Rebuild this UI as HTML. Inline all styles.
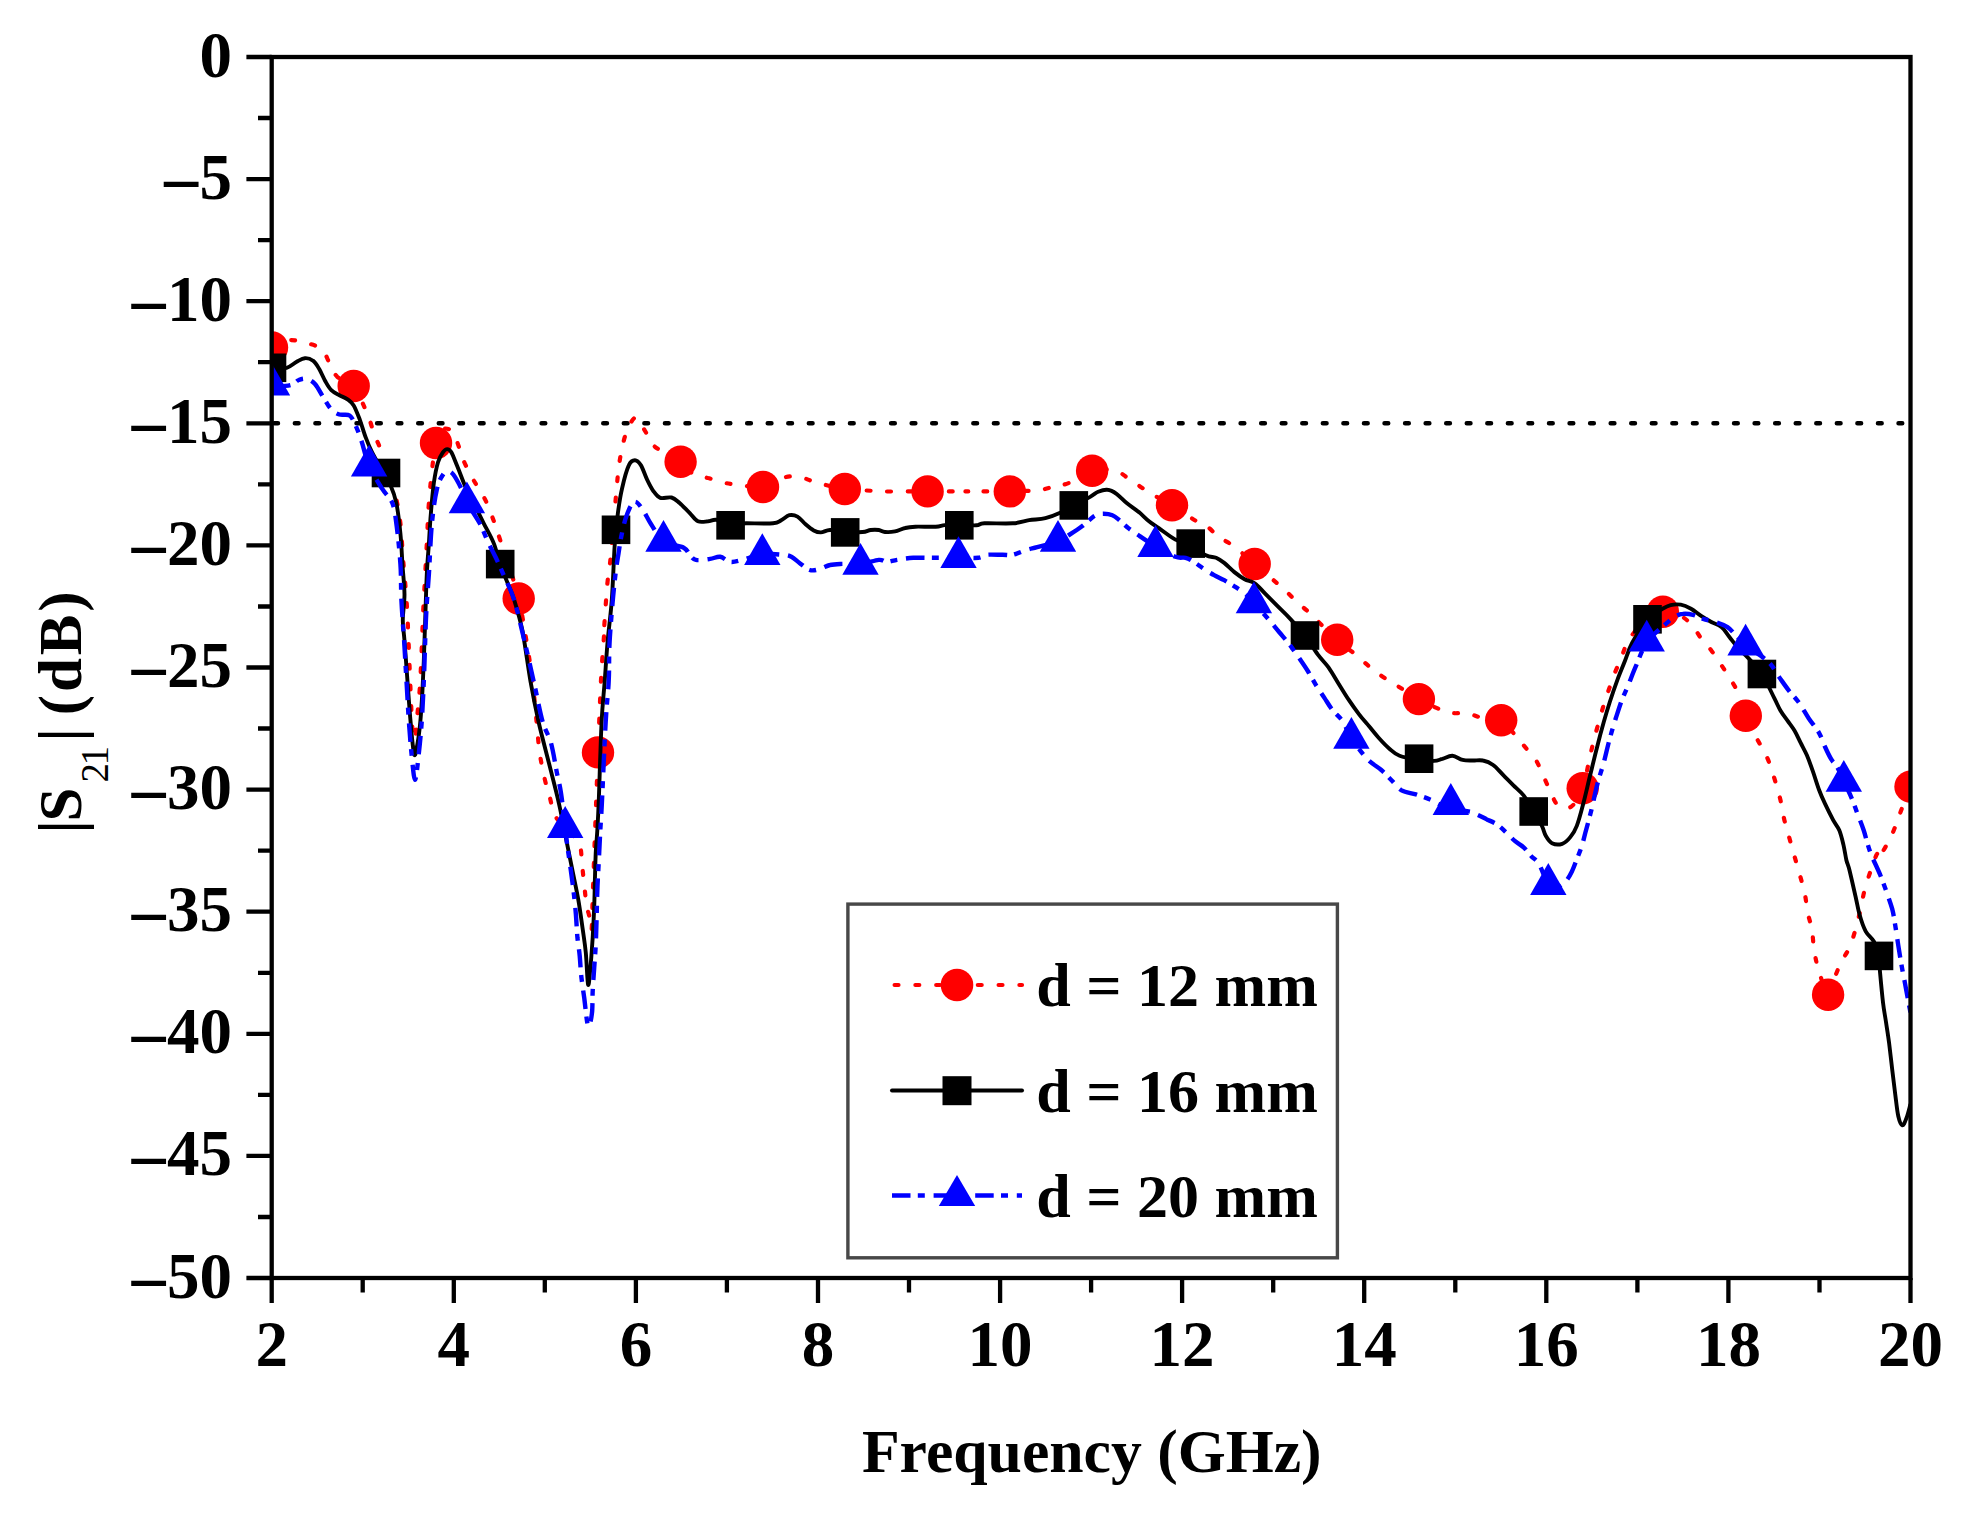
<!DOCTYPE html>
<html lang="en">
<head>
<meta charset="utf-8">
<title>|S21| versus frequency</title>
<style>
html,body{margin:0;padding:0;background:#fff;}
body{width:1969px;height:1520px;overflow:hidden;}
svg{display:block;}
text{font-family:"Liberation Serif", "Times New Roman", serif;font-weight:bold;fill:#000;}
</style>
</head>
<body>
<svg width="1969" height="1520" viewBox="0 0 1969 1520">
<rect x="0" y="0" width="1969" height="1520" fill="#ffffff"/>
<defs><clipPath id="plot"><rect x="271.7" y="57.0" width="1638.8" height="1221.0"/></clipPath></defs>
<line x1="271.7" y1="423.3" x2="1910.5" y2="423.3" stroke="#000" stroke-width="4.6" stroke-linecap="round" stroke-dasharray="3.6 16.96" stroke-dashoffset="-2.64"/>
<g clip-path="url(#plot)">
<path d="M272.0 347.4C274.7 346.3 283.5 341.2 288.6 340.3C293.8 339.5 297.4 341.0 302.8 342.4C308.3 343.7 316.7 345.1 321.1 348.5C325.5 351.8 326.6 357.9 329.3 362.7C332.0 367.4 333.3 373.0 337.4 376.9C341.5 380.8 348.6 379.6 353.7 386.1C358.7 392.5 364.5 407.6 367.9 415.5C371.3 423.5 372.0 428.4 374.0 433.8C376.0 439.2 377.4 441.3 380.1 448.0C382.8 454.8 387.5 466.0 390.2 474.5C393.0 482.9 394.6 490.7 396.3 498.9C398.0 507.0 399.2 512.4 400.4 523.3C401.6 534.1 402.4 551.1 403.5 563.9C404.5 576.7 405.7 587.2 406.5 600.0C407.4 612.8 407.9 625.4 408.5 640.7C409.2 655.9 409.9 676.2 410.6 691.5C411.2 706.7 411.9 722.3 412.6 732.1C413.3 741.9 414.0 752.1 414.6 750.4C415.3 748.7 415.8 732.1 416.7 722.0C417.5 711.8 418.9 701.6 419.7 689.4C420.6 677.2 421.2 660.3 421.7 648.8C422.3 637.3 422.4 628.5 422.8 620.3C423.1 612.2 423.1 612.8 423.8 600.0C424.5 587.2 426.0 559.8 426.8 543.6C427.7 527.4 427.8 516.5 428.9 502.9C429.9 489.4 431.7 472.3 432.9 462.3C434.1 452.3 434.5 448.2 436.0 443.0C437.5 437.7 440.2 433.1 442.1 430.8C443.9 428.4 445.3 428.4 447.2 428.7C449.0 429.1 451.2 429.6 453.3 432.8C455.3 436.0 457.7 443.5 459.3 448.0C461.0 452.6 461.4 455.5 463.4 460.2C465.4 465.0 469.0 471.8 471.5 476.5C474.1 481.2 476.3 484.6 478.7 488.7C481.0 492.8 483.2 495.5 485.8 500.9C488.3 506.3 491.5 514.8 493.9 521.2C496.3 527.7 497.6 532.4 500.0 539.5C502.4 546.6 505.0 554.1 508.1 563.9C511.2 573.7 515.7 585.7 518.7 598.5C521.7 611.2 524.1 626.8 526.4 640.7C528.7 654.5 530.8 667.8 532.5 681.3C534.2 694.9 535.4 710.1 536.6 722.0C537.8 733.8 538.3 743.0 539.6 752.4C541.0 761.9 543.0 771.4 544.7 778.9C546.4 786.3 548.1 791.1 549.8 797.2C551.5 803.3 552.0 810.0 554.9 815.4C557.8 820.9 563.0 824.9 567.1 829.7C571.1 834.4 576.8 838.2 579.3 843.9C581.8 849.6 581.2 857.2 582.0 864.1C582.8 871.0 583.5 878.6 584.3 885.5C585.1 892.3 585.7 900.0 586.6 905.3C587.5 910.6 588.8 913.4 589.6 917.5C590.5 921.6 591.1 933.3 591.6 929.7C592.1 926.2 592.4 905.0 592.7 896.1C593.0 887.2 593.2 883.4 593.4 876.3C593.7 869.2 594.0 860.5 594.2 853.4C594.5 846.3 594.7 840.2 595.0 833.6C595.2 827.0 595.0 834.0 595.7 813.7C596.5 793.4 598.6 735.9 599.6 711.8C600.6 687.7 600.8 683.3 601.6 669.1C602.5 654.9 604.2 634.0 604.7 626.4C605.1 618.9 603.9 631.1 604.4 623.9C604.9 616.7 606.4 594.1 607.4 583.3C608.5 572.4 609.3 570.7 610.5 558.9C611.7 547.0 613.4 525.7 614.6 512.1C615.7 498.6 616.8 486.0 617.6 477.6C618.4 469.1 618.8 466.7 619.6 461.3C620.5 455.9 621.3 450.5 622.7 445.0C624.0 439.6 625.6 433.4 627.8 428.8C630.0 424.2 633.0 417.3 635.9 417.6C638.8 417.9 642.0 426.1 645.0 430.8C648.1 435.6 648.3 440.9 654.2 446.1C660.1 451.2 674.0 457.0 680.6 461.7C687.2 466.4 689.2 471.8 693.8 474.5C698.4 477.2 703.1 476.6 708.0 478.0C713.0 479.3 718.2 481.5 723.3 482.6C728.4 483.8 731.9 483.9 738.5 484.7C745.1 485.4 755.1 488.4 762.9 487.1C770.7 485.9 778.8 478.7 785.3 477.2C791.7 475.6 796.3 476.6 801.5 477.6C806.8 478.5 809.6 480.7 816.8 482.6C824.0 484.6 836.9 487.9 844.8 489.1C852.8 490.4 858.2 490.0 864.6 490.4C870.9 490.7 876.1 491.2 882.8 491.4C889.6 491.6 897.8 491.4 905.2 491.4C912.7 491.4 920.4 491.4 927.6 491.4C934.7 491.4 941.1 491.4 947.9 491.4C954.7 491.4 965.2 491.4 968.2 491.4C971.2 491.4 963.1 491.4 966.1 491.4C969.1 491.4 979.1 491.4 986.4 491.4C993.7 491.4 1002.7 491.5 1009.8 491.4C1016.9 491.3 1024.5 490.9 1029.1 490.8C1033.7 490.7 1033.2 491.4 1037.2 490.8C1041.3 490.1 1048.1 488.1 1053.5 486.7C1058.9 485.4 1063.3 485.3 1069.8 482.6C1076.2 480.0 1084.7 472.7 1092.1 470.7C1099.6 468.6 1108.4 469.1 1114.5 470.4C1120.6 471.8 1124.1 475.7 1128.7 478.6C1133.3 481.5 1137.5 484.8 1141.9 487.7C1146.3 490.6 1150.1 492.9 1155.1 495.9C1160.1 498.8 1165.4 501.1 1172.0 505.2C1178.6 509.3 1188.9 516.7 1194.8 520.2C1200.6 523.8 1202.9 523.5 1207.0 526.3C1211.0 529.2 1215.6 534.8 1219.1 537.5C1222.7 540.2 1224.7 540.2 1228.3 542.6C1231.8 545.0 1236.1 548.2 1240.5 551.7C1244.9 555.3 1248.6 558.7 1254.7 563.9C1260.8 569.2 1271.5 578.3 1277.1 583.3C1282.7 588.2 1284.7 590.0 1288.3 593.4C1291.8 596.8 1294.8 600.2 1298.4 603.6C1302.1 606.9 1303.7 607.4 1310.2 613.5C1316.6 619.6 1329.7 633.6 1337.0 640.2C1344.3 646.8 1348.5 648.8 1353.9 653.2C1359.2 657.5 1364.4 662.5 1369.1 666.4C1373.8 670.3 1377.9 673.5 1382.3 676.5C1386.7 679.6 1389.4 680.9 1395.5 684.7C1401.6 688.4 1410.3 694.5 1418.9 699.1C1427.5 703.7 1439.4 709.8 1447.4 712.1C1455.3 714.5 1460.9 712.2 1466.7 713.1C1472.4 714.1 1476.2 716.6 1481.9 717.8C1487.7 719.0 1495.6 717.3 1501.2 720.2C1506.8 723.2 1511.4 730.9 1515.4 735.5C1519.5 740.1 1522.2 743.6 1525.6 747.7C1529.0 751.7 1532.9 755.3 1535.8 759.9C1538.7 764.5 1540.5 770.0 1542.9 775.1C1545.3 780.2 1547.5 785.3 1550.0 790.4C1552.5 795.4 1554.6 802.9 1558.1 805.6C1561.7 808.3 1567.2 809.5 1571.3 806.6C1575.4 803.7 1579.7 796.3 1582.7 788.3C1585.7 780.4 1587.7 766.5 1589.4 758.9C1591.2 751.2 1591.9 748.0 1593.3 742.6C1594.6 737.2 1596.0 732.1 1597.6 726.3C1599.2 720.6 1601.1 713.8 1602.8 708.0C1604.6 702.3 1606.2 697.4 1608.1 691.8C1610.0 686.2 1612.1 680.1 1614.2 674.5C1616.4 668.9 1619.0 663.5 1621.1 658.3C1623.3 653.0 1624.4 648.2 1627.2 643.0C1630.1 637.8 1634.3 631.8 1638.1 627.1C1641.9 622.4 1646.2 617.4 1650.3 614.9C1654.4 612.3 1658.2 611.8 1662.9 611.8C1667.6 611.8 1674.1 612.8 1678.8 614.9C1683.4 616.9 1687.2 620.1 1691.0 624.0C1694.7 627.9 1697.7 633.8 1701.1 638.3C1704.5 642.7 1708.1 646.2 1711.3 650.4C1714.5 654.7 1717.4 659.1 1720.4 663.7C1723.5 668.2 1726.7 673.1 1729.6 677.9C1732.4 682.6 1735.0 685.8 1737.7 692.1C1740.4 698.4 1742.6 707.9 1745.8 715.7C1749.0 723.5 1754.0 733.0 1757.0 738.9C1760.1 744.8 1761.9 746.7 1764.1 751.1C1766.3 755.5 1768.4 760.2 1770.2 765.3C1772.1 770.4 1773.6 775.8 1775.3 781.5C1777.0 787.3 1778.9 793.4 1780.4 799.8C1781.9 806.3 1782.9 813.7 1784.4 820.2C1786.0 826.6 1787.8 832.4 1789.5 838.5C1791.2 844.6 1792.9 850.8 1794.6 856.7C1796.3 862.7 1798.0 868.2 1799.7 874.4C1801.4 880.5 1803.4 887.3 1804.8 893.7C1806.1 900.1 1806.6 907.1 1807.8 913.0C1809.0 918.9 1810.9 923.5 1811.9 929.3C1812.9 935.0 1812.9 941.1 1813.9 947.6C1814.9 954.0 1815.6 960.0 1818.0 967.9C1820.4 975.7 1825.3 993.4 1828.1 994.7C1831.0 996.1 1833.1 981.5 1835.3 976.0C1837.5 970.5 1839.0 966.5 1841.4 961.8C1843.7 957.0 1847.1 953.0 1849.5 947.6C1851.9 942.1 1853.7 935.7 1855.6 929.3C1857.4 922.8 1859.1 915.5 1860.7 908.9C1862.2 902.3 1863.0 896.1 1864.7 889.6C1866.4 883.2 1868.8 876.3 1870.8 870.3C1872.9 864.4 1875.7 856.0 1876.9 854.1C1878.1 852.1 1875.9 861.0 1877.9 858.8C1880.0 856.5 1886.1 846.2 1889.1 840.5C1892.2 834.7 1894.2 829.3 1896.2 824.2C1898.3 819.1 1898.9 816.3 1901.3 810.0C1903.7 803.7 1908.9 790.5 1910.5 786.6" fill="none" stroke="#ff0000" stroke-width="4.2" stroke-linecap="round" stroke-dasharray="3.9 16.7" stroke-linejoin="round"/>
<circle cx="272.0" cy="347.4" r="16.2" fill="#ff0000"/>
<circle cx="353.7" cy="386.0" r="16.2" fill="#ff0000"/>
<circle cx="436.0" cy="443.0" r="16.2" fill="#ff0000"/>
<circle cx="518.7" cy="598.5" r="16.2" fill="#ff0000"/>
<circle cx="598.0" cy="752.4" r="16.2" fill="#ff0000"/>
<circle cx="680.6" cy="461.7" r="16.2" fill="#ff0000"/>
<circle cx="763.0" cy="487.0" r="16.2" fill="#ff0000"/>
<circle cx="844.8" cy="489.0" r="16.2" fill="#ff0000"/>
<circle cx="927.6" cy="491.4" r="16.2" fill="#ff0000"/>
<circle cx="1009.8" cy="491.4" r="16.2" fill="#ff0000"/>
<circle cx="1092.1" cy="470.7" r="16.2" fill="#ff0000"/>
<circle cx="1172.0" cy="505.2" r="16.2" fill="#ff0000"/>
<circle cx="1254.7" cy="564.0" r="16.2" fill="#ff0000"/>
<circle cx="1337.2" cy="639.8" r="16.2" fill="#ff0000"/>
<circle cx="1418.9" cy="699.1" r="16.2" fill="#ff0000"/>
<circle cx="1501.2" cy="720.2" r="16.2" fill="#ff0000"/>
<circle cx="1582.7" cy="788.3" r="16.2" fill="#ff0000"/>
<circle cx="1662.9" cy="611.8" r="16.2" fill="#ff0000"/>
<circle cx="1745.8" cy="715.7" r="16.2" fill="#ff0000"/>
<circle cx="1828.1" cy="994.7" r="16.2" fill="#ff0000"/>
<circle cx="1910.5" cy="786.6" r="16.2" fill="#ff0000"/>
<path d="M272.0 367.8C274.4 367.8 282.5 368.8 286.6 367.8C290.7 366.7 293.7 363.3 296.7 361.7C299.8 360.1 302.2 358.4 304.9 358.2C307.6 358.0 310.6 358.9 313.0 360.7C315.4 362.4 317.1 365.4 319.1 368.8C321.1 372.2 323.2 377.4 325.2 381.0C327.2 384.5 328.9 387.8 331.3 390.1C333.7 392.5 336.7 393.7 339.4 395.2C342.1 396.7 345.2 397.6 347.6 399.3C349.9 401.0 351.6 402.0 353.7 405.4C355.7 408.8 357.7 414.2 359.8 419.6C361.8 425.0 363.8 432.5 365.9 437.9C367.9 443.3 369.2 446.7 372.0 452.1C374.7 457.5 379.1 465.0 382.1 470.4C385.2 475.8 387.9 479.2 390.2 484.6C392.6 490.1 394.6 494.8 396.3 502.9C398.0 511.1 399.4 523.3 400.4 533.4C401.4 543.6 401.8 553.7 402.4 563.9C403.1 574.1 404.4 585.0 404.5 594.4C404.5 603.8 402.8 612.6 402.8 620.3C402.8 628.0 403.7 630.5 404.5 640.7C405.3 650.8 406.5 667.8 407.5 681.3C408.5 694.9 409.5 709.8 410.6 722.0C411.7 734.1 413.0 751.1 414.2 754.5C415.4 757.9 416.7 747.7 417.7 742.3C418.7 736.9 419.5 730.4 420.3 722.0C421.1 713.5 421.8 701.6 422.4 691.5C422.9 681.3 423.3 672.8 423.8 661.0C424.3 649.1 424.7 634.8 425.2 620.3C425.7 605.8 426.2 586.9 426.8 574.1C427.4 561.3 428.2 553.7 428.9 543.6C429.5 533.4 430.0 523.3 430.9 513.1C431.7 502.9 432.8 491.1 433.9 482.6C435.1 474.1 436.5 467.4 438.0 462.3C439.5 457.2 441.6 454.3 443.1 452.1C444.6 449.9 445.8 449.1 447.2 449.1C448.5 449.1 449.5 449.2 451.2 452.1C452.9 455.0 454.9 460.6 457.3 466.3C459.7 472.1 462.7 480.6 465.4 486.7C468.2 492.8 470.5 496.8 473.6 502.9C476.6 509.0 480.4 516.5 483.7 523.3C487.1 530.0 491.2 536.8 493.9 543.6C496.6 550.4 497.6 557.1 500.0 563.9C502.4 570.7 505.8 578.2 508.1 584.2C510.5 590.2 511.9 592.3 514.2 600.0C516.6 607.7 519.6 616.9 522.4 630.5C525.1 644.0 527.8 666.1 530.5 681.3C533.2 696.5 535.6 708.4 538.6 722.0C541.7 735.5 545.4 749.1 548.8 762.6C552.2 776.2 555.9 789.7 558.9 803.3C562.0 816.8 564.9 833.0 567.1 843.9C569.3 854.8 570.2 859.5 572.1 868.7C573.9 877.9 576.4 889.0 578.2 899.2C580.0 909.4 581.5 920.8 582.8 929.7C584.0 938.6 584.9 943.4 585.8 952.6C586.7 961.8 587.3 982.1 588.1 984.6C588.9 987.2 589.6 975.7 590.4 967.9C591.2 960.0 592.0 947.5 592.7 937.3C593.3 927.2 593.8 917.0 594.2 906.8C594.6 896.6 594.7 885.2 595.0 876.3C595.2 867.4 595.4 861.0 595.7 853.4C596.1 845.8 596.8 839.4 597.3 830.5C597.8 821.6 598.1 818.1 598.8 800.0C599.5 781.9 600.6 741.7 601.6 722.0C602.6 702.2 603.7 694.9 604.7 681.3C605.7 667.8 606.5 654.2 607.7 640.7C608.9 627.1 610.6 616.2 611.8 600.0C613.0 583.8 613.8 558.1 614.8 543.6C615.9 529.1 616.7 522.2 617.9 513.1C619.1 503.9 620.1 496.7 622.0 488.7C623.8 480.7 626.6 470.1 628.8 465.4C630.9 460.6 632.8 460.3 634.9 460.3C636.9 460.3 638.9 462.1 641.0 465.4C643.0 468.6 645.0 475.4 647.1 479.6C649.1 483.8 651.0 487.7 653.2 490.8C655.4 493.8 657.2 496.8 660.3 497.9C663.3 499.0 668.2 496.6 671.5 497.5C674.7 498.3 676.5 500.4 679.6 503.0C682.6 505.6 686.7 510.1 689.8 513.1C692.8 516.2 694.8 519.9 697.9 521.3C700.9 522.6 705.0 521.5 708.0 521.3C711.1 521.0 712.4 519.5 716.2 519.8C719.9 520.2 725.5 522.7 730.6 523.3C735.7 523.9 739.6 523.3 746.7 523.3C753.7 523.3 767.3 523.8 773.1 523.3C778.8 522.8 778.5 521.6 781.2 520.2C783.9 518.9 786.6 515.8 789.3 515.2C792.1 514.6 794.8 515.1 797.5 516.6C800.2 518.1 802.9 522.0 805.6 524.3C808.3 526.6 811.2 529.1 813.7 530.4C816.3 531.8 818.1 532.5 820.9 532.4C823.6 532.4 825.9 530.1 830.0 530.0C834.1 529.9 839.8 531.7 845.2 532.0C850.7 532.4 858.3 532.4 862.5 532.0C866.8 531.7 867.9 530.3 870.7 530.0C873.4 529.7 876.4 529.7 878.8 530.0C881.2 530.3 882.2 531.8 884.9 532.0C887.6 532.3 891.7 532.1 895.0 531.4C898.4 530.7 901.8 528.7 905.2 528.0C908.6 527.2 910.3 527.0 915.4 526.7C920.4 526.5 930.8 527.0 935.7 526.7C940.6 526.5 940.9 525.5 944.8 525.1C948.8 524.8 954.0 524.7 959.3 524.7C964.5 524.7 972.1 525.6 976.3 525.3C980.4 525.1 978.3 523.6 984.4 523.3C990.5 523.0 1005.4 523.8 1012.8 523.3C1020.3 522.8 1023.7 521.1 1029.1 520.2C1034.5 519.4 1040.3 519.4 1045.4 518.2C1050.4 517.0 1054.9 515.3 1059.6 513.1C1064.3 511.0 1068.7 508.1 1073.8 505.4C1078.9 502.7 1086.0 499.1 1090.1 496.9C1094.1 494.6 1095.3 493.0 1098.2 491.8C1101.1 490.6 1104.3 489.4 1107.4 489.8C1110.4 490.1 1113.3 491.6 1116.5 493.8C1119.7 496.0 1122.9 499.9 1126.7 503.0C1130.4 506.0 1135.1 509.1 1138.9 512.1C1142.6 515.2 1145.6 518.6 1149.0 521.3C1152.4 524.0 1154.8 525.3 1159.2 528.4C1163.6 531.4 1170.2 536.8 1175.4 539.6C1180.7 542.3 1185.6 542.4 1190.7 545.0C1195.8 547.6 1201.7 553.1 1205.9 555.2C1210.2 557.3 1213.0 556.6 1216.1 557.8C1219.1 559.1 1221.2 560.6 1224.2 562.9C1227.3 565.3 1231.0 569.4 1234.4 572.1C1237.8 574.8 1241.2 577.3 1244.6 579.2C1247.9 581.1 1251.3 580.9 1254.7 583.3C1258.1 585.6 1261.2 589.7 1264.9 593.4C1268.6 597.1 1273.0 601.5 1277.1 605.6C1281.1 609.7 1284.6 612.8 1289.3 617.8C1293.9 622.8 1300.2 629.4 1304.9 635.5C1309.7 641.6 1313.8 649.1 1317.7 654.4C1321.6 659.7 1325.0 662.5 1328.5 667.4C1331.9 672.3 1335.2 678.2 1338.6 683.7C1342.0 689.1 1345.4 694.8 1348.8 699.9C1352.2 705.0 1355.6 709.7 1358.9 714.1C1362.3 718.6 1365.7 722.3 1369.1 726.3C1372.5 730.4 1375.9 734.8 1379.3 738.5C1382.7 742.3 1386.0 745.8 1389.4 748.7C1392.8 751.6 1394.6 753.9 1399.6 755.8C1404.5 757.7 1413.3 759.0 1419.1 759.9C1424.9 760.7 1430.3 761.1 1434.1 760.9C1438.0 760.7 1439.2 759.7 1442.3 758.9C1445.3 758.0 1449.1 755.6 1452.4 755.8C1455.8 756.0 1459.2 759.1 1462.6 759.9C1466.0 760.7 1469.4 760.4 1472.8 760.5C1476.2 760.6 1479.5 759.7 1482.9 760.5C1486.3 761.2 1489.7 762.5 1493.1 765.0C1496.5 767.4 1499.9 771.7 1503.3 775.1C1506.6 778.5 1510.0 781.9 1513.4 785.3C1516.8 788.7 1520.2 791.1 1523.6 795.4C1527.0 799.8 1530.7 806.4 1533.7 811.5C1536.8 816.6 1539.8 821.8 1541.9 825.9C1543.9 830.0 1544.2 833.2 1545.9 836.1C1547.6 839.0 1549.3 841.9 1552.0 843.2C1554.7 844.5 1559.1 844.8 1562.2 843.8C1565.2 842.8 1567.9 840.1 1570.3 837.1C1572.8 834.1 1574.7 831.5 1576.8 825.9C1579.0 820.3 1581.0 812.4 1583.3 803.6C1585.6 794.8 1588.3 782.6 1590.7 773.1C1593.0 763.6 1595.0 755.1 1597.2 746.7C1599.3 738.2 1601.6 729.7 1603.7 722.3C1605.8 714.8 1607.5 709.1 1609.8 702.0C1612.1 694.8 1615.0 686.4 1617.5 679.6C1620.0 672.8 1622.4 667.4 1624.8 661.3C1627.2 655.2 1628.4 650.0 1632.1 643.0C1635.9 636.0 1642.3 624.9 1647.4 619.2C1652.4 613.5 1658.6 611.1 1662.5 608.8C1666.4 606.4 1667.6 605.8 1670.6 605.1C1673.7 604.4 1677.4 604.1 1680.8 604.7C1684.2 605.3 1687.6 606.9 1691.0 608.8C1694.3 610.6 1697.7 613.7 1701.1 615.9C1704.5 618.1 1707.9 620.1 1711.3 622.0C1714.7 623.9 1718.4 624.5 1721.4 627.1C1724.5 629.6 1726.9 633.8 1729.6 637.2C1732.3 640.6 1734.7 644.0 1737.7 647.4C1740.7 650.8 1743.8 653.1 1747.9 657.6C1751.9 662.0 1757.5 667.2 1761.9 674.0C1766.3 680.8 1771.2 692.1 1774.3 698.2C1777.4 704.3 1778.2 706.7 1780.4 710.4C1782.6 714.1 1785.1 717.2 1787.5 720.6C1789.9 724.0 1792.4 727.0 1794.6 730.7C1796.8 734.5 1798.7 738.9 1800.7 742.9C1802.7 747.0 1804.8 750.4 1806.8 755.1C1808.8 759.9 1810.9 765.6 1812.9 771.4C1814.9 777.1 1817.0 784.3 1819.0 789.7C1821.0 795.1 1822.7 798.8 1825.1 803.9C1827.5 809.0 1830.9 815.8 1833.2 820.2C1835.6 824.6 1837.6 826.3 1839.3 830.3C1841.0 834.4 1842.2 839.6 1843.4 844.6C1844.6 849.5 1845.4 855.9 1846.4 860.2C1847.5 864.5 1848.0 864.2 1849.5 870.3C1851.0 876.4 1853.9 889.3 1855.6 896.7C1857.3 904.2 1858.0 909.3 1859.7 915.0C1861.3 920.8 1863.4 926.9 1865.7 931.3C1868.1 935.7 1871.7 937.4 1873.9 941.5C1876.1 945.6 1877.9 950.8 1879.0 955.9C1880.0 961.0 1879.3 964.2 1880.0 972.0C1880.7 979.7 1882.0 994.0 1883.0 1002.4C1884.0 1010.9 1885.1 1016.0 1886.1 1022.8C1887.1 1029.5 1888.1 1035.3 1889.1 1043.1C1890.1 1050.9 1891.2 1061.0 1892.2 1069.5C1893.2 1078.0 1894.2 1086.1 1895.2 1093.9C1896.2 1101.7 1897.1 1111.0 1898.3 1116.3C1899.5 1121.5 1901.0 1125.1 1902.3 1125.4C1903.7 1125.7 1905.0 1121.8 1906.4 1118.3C1907.8 1114.7 1909.8 1106.4 1910.5 1104.1" fill="none" stroke="#000" stroke-width="3.9" stroke-linejoin="round"/>
<rect x="257.7" y="353.5" width="28.6" height="28.6" fill="#000"/>
<rect x="371.7" y="458.7" width="28.6" height="28.6" fill="#000"/>
<rect x="485.9" y="549.8" width="28.6" height="28.6" fill="#000"/>
<rect x="601.7" y="515.5" width="28.6" height="28.6" fill="#000"/>
<rect x="716.3" y="511.0" width="28.6" height="28.6" fill="#000"/>
<rect x="830.9" y="518.1" width="28.6" height="28.6" fill="#000"/>
<rect x="945.0" y="511.0" width="28.6" height="28.6" fill="#000"/>
<rect x="1059.5" y="491.1" width="28.6" height="28.6" fill="#000"/>
<rect x="1176.4" y="529.3" width="28.6" height="28.6" fill="#000"/>
<rect x="1290.7" y="621.2" width="28.6" height="28.6" fill="#000"/>
<rect x="1404.8" y="744.4" width="28.6" height="28.6" fill="#000"/>
<rect x="1519.4" y="797.2" width="28.6" height="28.6" fill="#000"/>
<rect x="1633.2" y="605.0" width="28.6" height="28.6" fill="#000"/>
<rect x="1747.6" y="659.7" width="28.6" height="28.6" fill="#000"/>
<rect x="1864.7" y="941.6" width="28.6" height="28.6" fill="#000"/>
<path d="M272.0 387.1C275.1 386.7 286.2 386.2 290.7 385.0C295.1 383.9 296.1 381.0 298.8 380.0C301.5 378.9 304.2 378.3 306.9 378.9C309.6 379.6 312.3 381.0 315.0 384.0C317.8 387.1 320.5 393.0 323.2 397.2C325.9 401.5 328.6 406.6 331.3 409.4C334.0 412.3 336.4 413.5 339.4 414.5C342.5 415.5 346.9 413.7 349.6 415.5C352.3 417.4 353.7 421.3 355.7 425.7C357.7 430.1 359.6 435.2 361.8 442.0C364.0 448.7 365.7 458.1 369.1 465.9C372.5 473.7 378.3 482.5 382.1 488.7C386.0 494.9 389.9 497.2 392.3 502.9C394.6 508.7 395.0 513.1 396.3 523.3C397.7 533.4 399.6 551.1 400.4 563.9C401.3 576.7 400.8 587.2 401.4 600.0C402.0 612.8 403.2 627.1 404.1 640.7C404.9 654.2 405.7 667.8 406.5 681.3C407.3 694.9 408.1 709.8 408.9 722.0C409.8 734.1 410.6 744.8 411.6 754.5C412.6 764.1 413.9 779.9 415.0 779.9C416.2 779.9 417.6 764.1 418.7 754.5C419.8 744.8 420.9 734.1 421.7 722.0C422.6 709.8 423.2 694.9 423.8 681.3C424.4 667.8 424.8 652.5 425.2 640.7C425.6 628.8 425.8 621.3 426.4 610.2C427.0 599.1 427.9 588.6 428.9 574.1C429.8 559.6 430.6 537.5 431.9 523.3C433.3 509.0 435.1 496.8 437.0 488.7C438.9 480.6 441.2 477.4 443.1 474.5C445.0 471.6 446.5 471.4 448.2 471.4C449.9 471.4 451.1 471.6 453.3 474.5C455.5 477.4 459.1 484.0 461.4 488.7C463.7 493.4 463.8 496.8 466.9 502.5C469.9 508.3 476.2 516.7 479.7 523.3C483.2 529.8 485.1 535.8 487.8 541.5C490.5 547.3 493.2 552.0 495.9 557.8C498.6 563.6 501.0 569.1 504.1 576.1C507.1 583.1 510.8 589.2 514.2 600.0C517.6 610.8 521.0 626.4 524.4 640.7C527.8 654.9 531.5 671.8 534.6 685.4C537.6 698.9 540.0 712.5 542.7 722.0C545.4 731.4 548.4 733.8 550.8 742.3C553.2 750.7 555.2 764.3 556.9 772.8C558.6 781.2 559.6 784.0 561.0 793.1C562.4 802.2 564.2 818.8 565.2 827.2C566.3 835.7 566.2 837.0 567.1 843.9C568.0 850.8 569.5 860.7 570.6 868.7C571.6 876.6 572.7 883.9 573.6 891.6C574.5 899.2 575.3 906.8 575.9 914.5C576.5 922.1 576.8 930.5 577.4 937.3C578.1 944.2 579.1 949.3 579.7 955.7C580.3 962.0 580.5 968.4 581.2 975.5C582.0 982.6 583.1 990.0 584.3 998.4C585.4 1006.8 586.8 1023.3 588.1 1025.9C589.4 1028.4 591.2 1019.5 591.9 1013.6C592.7 1007.8 592.3 998.4 592.7 990.8C593.1 983.1 593.7 975.5 594.2 967.9C594.7 960.2 595.4 952.6 595.7 945.0C596.1 937.3 596.2 931.0 596.5 922.1C596.8 913.2 596.9 901.7 597.3 891.6C597.6 881.4 598.3 871.2 598.8 861.0C599.3 850.9 599.8 839.9 600.3 830.5C600.8 821.1 600.9 822.7 601.8 804.6C602.7 786.5 604.5 742.5 605.7 722.0C606.8 701.4 608.1 694.3 608.7 681.3C609.4 668.3 608.8 657.2 609.5 644.2C610.1 631.3 611.5 615.4 612.5 603.6C613.5 591.7 614.6 581.6 615.6 573.1C616.6 564.6 617.6 559.2 618.6 552.8C619.6 546.3 620.5 540.2 621.7 534.5C622.9 528.7 624.2 523.0 625.7 518.2C627.3 513.5 629.1 508.7 630.8 506.0C632.5 503.3 633.9 501.3 635.9 502.0C637.9 502.6 640.5 506.4 643.0 510.1C645.5 513.8 647.7 519.1 651.1 524.3C654.6 529.5 658.1 537.3 663.5 541.2C669.0 545.1 679.3 545.4 683.7 547.7C688.0 550.0 687.7 552.8 689.8 554.8C691.8 556.8 692.5 559.2 695.9 559.9C699.2 560.6 706.0 559.4 710.1 558.9C714.1 558.4 716.9 556.3 720.2 556.8C723.6 557.3 726.7 561.4 730.4 561.9C734.1 562.4 737.3 561.1 742.6 559.9C747.9 558.6 755.5 555.2 762.3 554.4C769.1 553.5 778.4 554.4 783.3 554.8C788.1 555.2 788.7 555.5 791.4 556.8C794.1 558.2 796.5 560.7 799.5 562.9C802.6 565.1 806.3 569.0 809.7 570.0C813.1 571.1 816.4 569.9 819.8 569.0C823.2 568.2 826.3 565.8 830.0 565.0C833.7 564.1 837.1 564.1 842.2 563.9C847.3 563.8 854.4 564.8 860.5 564.1C866.6 563.5 874.4 560.3 878.8 559.9C883.2 559.5 883.9 561.9 886.9 561.9C890.0 561.9 892.7 560.6 897.1 559.9C901.5 559.2 906.9 558.2 913.3 557.8C919.8 557.5 928.2 557.9 935.7 557.8C943.2 557.8 951.4 557.4 958.5 557.4C965.6 557.4 973.6 558.3 978.3 557.8C983.0 557.4 982.4 555.3 986.4 554.8C990.5 554.3 998.3 554.8 1002.7 554.8C1007.1 554.8 1008.8 555.6 1012.8 554.8C1016.9 553.9 1023.0 551.0 1027.1 549.7C1031.1 548.4 1032.1 548.5 1037.2 547.1C1042.4 545.7 1052.5 543.3 1058.0 541.2C1063.4 539.1 1065.8 536.9 1069.8 534.5C1073.8 532.0 1077.9 529.4 1082.0 526.3C1086.0 523.3 1090.8 518.3 1094.1 516.2C1097.5 514.1 1099.2 513.9 1102.3 513.7C1105.3 513.6 1109.4 513.9 1112.4 515.2C1115.5 516.4 1117.9 519.1 1120.6 521.3C1123.3 523.5 1125.7 526.0 1128.7 528.4C1131.7 530.7 1134.4 532.5 1138.9 535.5C1143.3 538.5 1149.4 542.7 1155.5 546.3C1161.6 549.8 1170.4 554.9 1175.4 556.8C1180.5 558.8 1182.6 557.0 1185.6 557.8C1188.7 558.7 1190.7 560.0 1193.7 561.9C1196.8 563.8 1200.5 566.8 1203.9 569.0C1207.3 571.2 1210.7 573.3 1214.1 575.1C1217.5 577.0 1220.8 578.3 1224.2 580.2C1227.6 582.1 1231.0 584.1 1234.4 586.3C1237.8 588.5 1241.3 590.7 1244.6 593.4C1247.8 596.1 1249.8 598.2 1253.9 602.6C1258.0 607.0 1264.7 614.9 1268.9 619.8C1273.1 624.7 1275.7 628.0 1279.1 632.0C1282.5 636.1 1285.8 639.7 1289.3 644.2C1292.8 648.8 1296.9 654.7 1300.0 659.3C1303.1 663.8 1305.4 667.1 1308.1 671.5C1310.8 675.9 1313.6 681.3 1316.3 685.7C1319.0 690.1 1321.7 693.8 1324.4 697.9C1327.1 702.0 1329.5 706.2 1332.5 710.1C1335.6 714.0 1339.5 716.6 1342.7 721.3C1345.8 725.9 1347.4 731.9 1351.4 738.1C1355.5 744.4 1362.1 753.5 1367.1 758.9C1372.1 764.2 1377.2 766.5 1381.3 770.0C1385.4 773.6 1388.1 776.8 1391.5 780.2C1394.9 783.6 1397.6 788.0 1401.6 790.4C1405.7 792.7 1411.1 792.9 1415.9 794.4C1420.6 796.0 1426.0 797.8 1430.1 799.5C1434.1 801.2 1436.7 803.0 1440.2 804.6C1443.8 806.2 1446.3 808.0 1451.3 809.2C1456.3 810.4 1465.9 810.8 1470.3 811.7C1474.8 812.7 1475.2 813.6 1477.9 814.9C1480.7 816.2 1483.6 817.8 1486.8 819.4C1490.0 820.9 1493.8 822.3 1497.0 824.4C1500.2 826.6 1502.9 829.3 1505.9 832.1C1508.8 834.8 1511.8 838.4 1514.8 840.9C1517.7 843.5 1520.9 844.8 1523.6 847.3C1526.4 849.8 1528.7 853.4 1531.3 856.2C1533.8 858.9 1536.0 859.1 1538.9 863.8C1541.7 868.5 1545.3 880.3 1548.3 884.2C1551.2 888.2 1553.8 887.7 1556.7 887.3C1559.5 886.8 1563.0 884.2 1565.5 881.6C1568.1 878.9 1570.0 875.2 1571.9 871.4C1573.8 867.6 1575.4 862.7 1577.0 858.7C1578.6 854.7 1580.0 851.5 1581.4 847.3C1582.8 843.1 1583.6 839.5 1585.2 833.3C1586.9 827.1 1589.3 818.3 1591.4 810.0C1593.4 801.7 1595.4 791.4 1597.5 783.6C1599.5 775.8 1601.5 770.7 1603.6 763.3C1605.6 755.8 1607.6 746.3 1609.7 738.9C1611.7 731.4 1613.7 725.0 1615.7 718.5C1617.8 712.1 1619.8 705.7 1621.8 700.2C1623.9 694.8 1625.6 691.8 1627.9 686.0C1630.3 680.3 1632.9 673.0 1636.1 665.7C1639.3 658.3 1642.3 648.7 1647.0 641.9C1651.8 635.1 1659.9 629.2 1664.5 625.0C1669.1 620.9 1671.6 618.8 1674.7 616.9C1677.7 615.0 1679.8 614.2 1682.8 613.9C1685.9 613.5 1689.6 614.0 1693.0 614.9C1696.4 615.7 1699.4 617.8 1703.1 618.9C1706.9 620.1 1711.3 620.6 1715.3 622.0C1719.4 623.3 1724.1 624.9 1727.5 627.1C1730.9 629.3 1732.7 632.2 1735.7 635.2C1738.7 638.2 1740.2 640.6 1745.6 645.0C1751.0 649.4 1762.7 656.5 1768.2 661.6C1773.6 666.8 1775.0 671.1 1778.3 675.9C1781.7 680.6 1785.1 685.7 1788.5 690.1C1791.9 694.5 1795.3 697.5 1798.7 702.3C1802.1 707.0 1805.4 713.5 1808.8 718.5C1812.2 723.6 1816.3 728.0 1819.0 732.8C1821.7 737.5 1823.1 742.6 1825.1 747.0C1827.1 751.4 1829.2 755.8 1831.2 759.2C1833.2 762.6 1835.2 763.7 1837.3 767.3C1839.4 771.0 1841.4 776.1 1843.8 781.1C1846.2 786.2 1849.2 792.3 1851.5 797.8C1853.8 803.3 1855.6 808.6 1857.6 814.1C1859.7 819.5 1862.0 825.2 1863.7 830.3C1865.4 835.4 1866.4 840.3 1867.8 844.6C1869.1 848.8 1869.8 851.1 1871.8 856.1C1873.9 861.1 1877.6 868.6 1880.0 874.4C1882.3 880.1 1884.0 884.9 1886.1 890.7C1888.1 896.4 1890.6 903.2 1892.2 908.9C1893.7 914.7 1894.2 919.1 1895.2 925.2C1896.2 931.3 1897.3 939.1 1898.3 945.5C1899.3 952.0 1900.3 958.1 1901.3 963.8C1902.3 969.6 1903.3 974.7 1904.4 980.1C1905.4 985.5 1906.4 990.9 1907.4 996.3C1908.4 1001.8 1910.0 1009.9 1910.5 1012.6" fill="none" stroke="#0000ff" stroke-width="4.4" stroke-dasharray="18.5 7.3 7 8.8" stroke-linejoin="round"/>
<polygon points="272.0,363.8 253.8,395.6 290.2,395.6" fill="#0000ff"/>
<polygon points="369.1,444.8 350.9,476.6 387.3,476.6" fill="#0000ff"/>
<polygon points="466.9,481.4 448.7,513.2 485.1,513.2" fill="#0000ff"/>
<polygon points="565.2,806.1 547.0,837.9 583.4,837.9" fill="#0000ff"/>
<polygon points="663.5,520.0 645.3,551.8 681.7,551.8" fill="#0000ff"/>
<polygon points="762.3,533.3 744.1,565.1 780.5,565.1" fill="#0000ff"/>
<polygon points="860.5,543.0 842.3,574.8 878.7,574.8" fill="#0000ff"/>
<polygon points="958.5,536.3 940.3,568.1 976.7,568.1" fill="#0000ff"/>
<polygon points="1058.0,520.0 1039.8,551.8 1076.2,551.8" fill="#0000ff"/>
<polygon points="1155.5,525.1 1137.3,556.9 1173.7,556.9" fill="#0000ff"/>
<polygon points="1253.9,581.4 1235.7,613.2 1272.1,613.2" fill="#0000ff"/>
<polygon points="1351.4,717.0 1333.2,748.8 1369.6,748.8" fill="#0000ff"/>
<polygon points="1450.8,783.1 1432.6,814.9 1469.0,814.9" fill="#0000ff"/>
<polygon points="1548.3,863.1 1530.1,894.9 1566.5,894.9" fill="#0000ff"/>
<polygon points="1646.7,619.8 1628.5,651.6 1664.9,651.6" fill="#0000ff"/>
<polygon points="1745.6,623.8 1727.4,655.6 1763.8,655.6" fill="#0000ff"/>
<polygon points="1843.8,760.0 1825.6,791.8 1862.0,791.8" fill="#0000ff"/>
</g>
<rect x="271.7" y="57.0" width="1638.8" height="1221.0" fill="none" stroke="#000" stroke-width="4.3"/>
<path d="M271.7 57.0H246.4M271.7 118.0H258.0M271.7 179.1H246.4M271.7 240.2H258.0M271.7 301.2H246.4M271.7 362.2H258.0M271.7 423.3H246.4M271.7 484.4H258.0M271.7 545.4H246.4M271.7 606.5H258.0M271.7 667.5H246.4M271.7 728.5H258.0M271.7 789.6H246.4M271.7 850.6H258.0M271.7 911.7H246.4M271.7 972.8H258.0M271.7 1033.8H246.4M271.7 1094.8H258.0M271.7 1155.9H246.4M271.7 1217.0H258.0M271.7 1278.0H246.4M271.7 1278.0V1303.0M362.7 1278.0V1292.5M453.8 1278.0V1303.0M544.8 1278.0V1292.5M635.9 1278.0V1303.0M726.9 1278.0V1292.5M818.0 1278.0V1303.0M909.0 1278.0V1292.5M1000.1 1278.0V1303.0M1091.1 1278.0V1292.5M1182.1 1278.0V1303.0M1273.2 1278.0V1292.5M1364.2 1278.0V1303.0M1455.3 1278.0V1292.5M1546.3 1278.0V1303.0M1637.4 1278.0V1292.5M1728.4 1278.0V1303.0M1819.5 1278.0V1292.5M1910.5 1278.0V1303.0" fill="none" stroke="#000" stroke-width="4.3"/>
<g font-size="65" text-anchor="end">
<text x="232" y="76.5">0</text>
<text x="232" y="198.6"><tspan font-size="75" dy="10.4">−</tspan><tspan dy="-10.4" dx="-3">5</tspan></text>
<text x="232" y="320.7"><tspan font-size="75" dy="10.4">−</tspan><tspan dy="-10.4" dx="-3">10</tspan></text>
<text x="232" y="442.8"><tspan font-size="75" dy="10.4">−</tspan><tspan dy="-10.4" dx="-3">15</tspan></text>
<text x="232" y="564.9"><tspan font-size="75" dy="10.4">−</tspan><tspan dy="-10.4" dx="-3">20</tspan></text>
<text x="232" y="687.0"><tspan font-size="75" dy="10.4">−</tspan><tspan dy="-10.4" dx="-3">25</tspan></text>
<text x="232" y="809.1"><tspan font-size="75" dy="10.4">−</tspan><tspan dy="-10.4" dx="-3">30</tspan></text>
<text x="232" y="931.2"><tspan font-size="75" dy="10.4">−</tspan><tspan dy="-10.4" dx="-3">35</tspan></text>
<text x="232" y="1053.3"><tspan font-size="75" dy="10.4">−</tspan><tspan dy="-10.4" dx="-3">40</tspan></text>
<text x="232" y="1175.4"><tspan font-size="75" dy="10.4">−</tspan><tspan dy="-10.4" dx="-3">45</tspan></text>
<text x="232" y="1297.5"><tspan font-size="75" dy="10.4">−</tspan><tspan dy="-10.4" dx="-3">50</tspan></text>
</g>
<g font-size="65" text-anchor="middle">
<text x="271.7" y="1365.5">2</text>
<text x="453.8" y="1365.5">4</text>
<text x="635.9" y="1365.5">6</text>
<text x="818.0" y="1365.5">8</text>
<text x="1000.1" y="1365.5">10</text>
<text x="1182.1" y="1365.5">12</text>
<text x="1364.2" y="1365.5">14</text>
<text x="1546.3" y="1365.5">16</text>
<text x="1728.4" y="1365.5">18</text>
<text x="1910.5" y="1365.5">20</text>
</g>
<text x="1091.8" y="1472.4" font-size="61.7" text-anchor="middle">Frequency (GHz)</text>
<text transform="translate(80.5 833.5) rotate(-90)" font-size="61" letter-spacing="2.1">|<tspan dx="-3.5">S</tspan><tspan font-size="39" font-weight="normal" dy="27" dx="3" letter-spacing="-2.5">21</tspan><tspan dy="-27" dx="7" letter-spacing="2.8">|</tspan><tspan dx="-8" letter-spacing="2.8"> (dB)</tspan></text>
<rect x="847.9" y="904.1" width="489.5" height="353.7" fill="#fff" stroke="#484848" stroke-width="3.4"/>
<line x1="894.6" y1="985.0" x2="1022" y2="985.0" stroke="#ff0000" stroke-width="4.2" stroke-linecap="round" stroke-dasharray="3.9 16.9"/>
<circle cx="957" cy="985.0" r="16.3" fill="#ff0000"/>
<line x1="892" y1="1090.5" x2="1022" y2="1090.5" stroke="#000" stroke-width="4" stroke-linecap="round"/>
<rect x="942.5" y="1076.2" width="29" height="29" fill="#000"/>
<line x1="892" y1="1195.5" x2="1022" y2="1195.5" stroke="#0000ff" stroke-width="4.4" stroke-dasharray="18.5 7.3 7 8.8"/>
<polygon points="957.0,1174.9 938.8,1206.1 975.2,1206.1" fill="#0000ff"/>
<g font-size="62">
<text x="1036.3" y="1006.0" xml:space="preserve">d = 12 mm</text>
<text x="1036.3" y="1111.5" xml:space="preserve">d = 16 mm</text>
<text x="1036.3" y="1216.5" xml:space="preserve">d = 20 mm</text>
</g>
</svg>
</body>
</html>
